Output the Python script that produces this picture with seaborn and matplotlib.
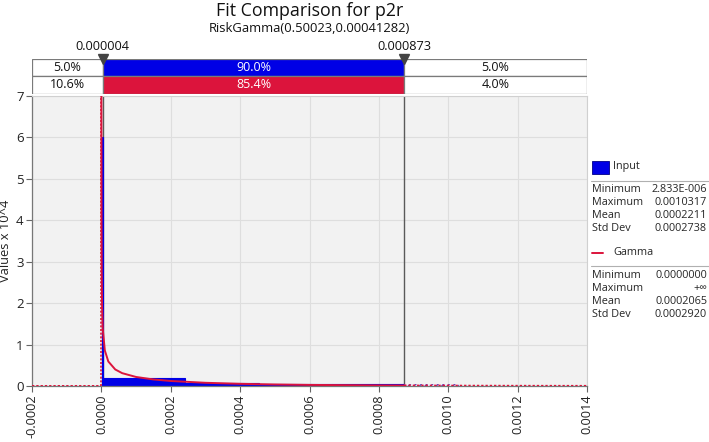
import matplotlib
matplotlib.use("Agg")
import matplotlib.pyplot as plt
import matplotlib.transforms as mtransforms
import numpy as np
import pandas as pd
import seaborn as sns

# ---------------- data ----------------
title = "Fit Comparison for p2r"
subtitle = "RiskGamma(0.50023,0.00041282)"
left_mark = 0.000004
right_mark = 0.000873
mark_labels = ["0.000004", "0.000873"]
input_pcts = ["5.0%", "90.0%", "5.0%"]
fit_pcts = ["10.6%", "85.4%", "4.0%"]

# histogram of input (values x 10^4)
hist_edges = [0.000002833, 0.0000060, 0.000240, 0.000455, 0.000665, 0.000873]
hist_heights = [6.0, 0.20, 0.07, 0.045, 0.04]
tail_edges = [0.000873, 0.0010317]
tail_heights = [0.06]

# fitted gamma density (values x 10^4)
gamma_x = [0.00000016, 0.0000003, 0.0000005, 0.000001, 0.000002, 0.000004,
           0.00001, 0.00002, 0.00004, 0.00006, 0.0001, 0.00015, 0.0002,
           0.0003, 0.0004, 0.0005, 0.0006, 0.0008, 0.000873]
gamma_y = [7.0, 5.07, 3.93, 2.78, 1.96, 1.375, 0.857, 0.592, 0.399, 0.310,
           0.218, 0.158, 0.121, 0.0775, 0.0527, 0.037, 0.0265, 0.0141, 0.0113]
gamma_tail_x = [0.000873, 0.001, 0.0012, 0.0014]
gamma_tail_y = [0.0113, 0.0078, 0.0044, 0.0025]
gamma_left_x = [-0.0002, 0.0]
gamma_left_y = [0.0, 0.0]
gamma_zero_x = [0.0, 0.0]
gamma_zero_y = [0.0, 7.0]

input_stats = [("Minimum", "2.833E-006"), ("Maximum", "0.0010317"),
               ("Mean", "0.0002211"), ("Std Dev", "0.0002738")]
gamma_stats = [("Minimum", "0.0000000"), ("Maximum", "+\u221e"),
               ("Mean", "0.0002065"), ("Std Dev", "0.0002920")]

x_ticks = [-0.0002, 0.0, 0.0002, 0.0004, 0.0006, 0.0008, 0.0010, 0.0012, 0.0014]
y_ticks = [0, 1, 2, 3, 4, 5, 6, 7]

# ---------------- style ----------------
sns.set_theme(style="whitegrid")
plt.rcParams["font.family"] = ["Open Sans", "DejaVu Sans"]

BLUE = "#0000E6"
RED = "#DC143C"
W, H = 709, 442

fig = plt.figure(figsize=(W / 100, H / 100), dpi=100)
fig.patch.set_facecolor("white")
ax = fig.add_axes([32 / W, 1 - 386 / H, 555 / W, 290 / H])
axb = fig.add_axes([32 / W, 1 - 93.5 / H, 555 / W, 34.5 / H])

# ---------------- main plot ----------------
ax.set_facecolor("#F2F2F2")
ax.grid(True, color="#DEDEDE", linewidth=0.8)
ax.set_axisbelow(True)

for xm in (left_mark, right_mark):
    ax.axvline(xm, color="#5A5A5A", linewidth=1.0, zorder=1.5)

centers = [(a + b) / 2 for a, b in zip(hist_edges[:-1], hist_edges[1:])]
sns.histplot(x=centers, weights=hist_heights, bins=hist_edges, ax=ax,
             color=BLUE, alpha=1.0, edgecolor=BLUE, linewidth=0.8, zorder=2)
tcenters = [(a + b) / 2 for a, b in zip(tail_edges[:-1], tail_edges[1:])]
sns.histplot(x=tcenters, weights=tail_heights, bins=tail_edges, ax=ax,
             facecolor="#F4ECF6", edgecolor="#7040B0", hatch="//////",
             linewidth=0, alpha=1.0, zorder=2)

dotted = (0, (1.2, 1.0))
sns.lineplot(x=gamma_x, y=gamma_y, ax=ax, color=RED, linewidth=1.4,
             sort=False, estimator=None, zorder=3)
sns.lineplot(x=gamma_tail_x, y=gamma_tail_y, ax=ax, color=RED, linewidth=1.4,
             sort=False, estimator=None, zorder=3, linestyle=dotted)
sns.lineplot(x=gamma_left_x, y=gamma_left_y, ax=ax, color=RED, linewidth=1.4,
             sort=False, estimator=None, zorder=3, linestyle=dotted)
sns.lineplot(x=gamma_zero_x, y=gamma_zero_y, ax=ax, color=RED, linewidth=1.2,
             sort=False, estimator=None, zorder=3, linestyle=dotted)

ax.set_xlim(-0.0002, 0.0014)
ax.set_ylim(0, 7)
ax.set_xticks(x_ticks)
ax.set_xticklabels([f"{v:.4f}" for v in x_ticks], rotation=90, fontsize=9.2,
                   color="#222222")
ax.set_yticks(y_ticks)
ax.set_yticklabels([str(v) for v in y_ticks], fontsize=9.5, color="#222222")
ax.tick_params(axis="both", which="both", length=4, width=0.8,
               color="#666666", direction="out", pad=2,
               bottom=True, left=True)
ax.set_xlabel("")
ax.set_ylabel("Values x 10^4", fontsize=9.3, color="#222222")
ax.yaxis.set_label_coords(-20 / 555, 0.5)
for side in ("left", "bottom"):
    ax.spines[side].set_color("#777777")
    ax.spines[side].set_linewidth(0.9)
for side in ("right", "top"):
    ax.spines[side].set_color("#D0D0D0")
    ax.spines[side].set_linewidth(0.8)

# ---------------- band above plot ----------------
axb.set_xlim(-0.0002, 0.0014)
axb.set_ylim(0, 2)
axb.axis("off")
seg_left = [-0.0002, left_mark, right_mark]
seg_width = [left_mark + 0.0002, right_mark - left_mark, 0.0014 - right_mark]
axb.barh([1.5] * 3, seg_width, left=seg_left, height=1.0,
         color=["white", BLUE, "white"], edgecolor="#7A7A7A", linewidth=0.9)
axb.barh([0.5] * 3, seg_width, left=seg_left, height=1.0,
         color=["white", RED, "white"], edgecolor="#7A7A7A", linewidth=0.9)
for i, (l, w) in enumerate(zip(seg_left, seg_width)):
    col = "white" if i == 1 else "#111111"
    axb.text(l + w / 2, 1.5, input_pcts[i], ha="center", va="center",
             fontsize=9, color=col)
    axb.text(l + w / 2, 0.5, fit_pcts[i], ha="center", va="center",
             fontsize=9, color=col)

trans = mtransforms.blended_transform_factory(axb.transData, fig.transFigure)
for xm, lab in zip((left_mark, right_mark), mark_labels):
    axb.plot([xm], [1 - 58.5 / H], marker="v", markersize=7, color="#444444",
             transform=trans, clip_on=False, zorder=5)
    fig.text(xm, 1 - 47 / H, lab, transform=trans, ha="center", va="center",
             fontsize=9.2, color="#111111")

# ---------------- titles ----------------
cx = (32 + 555 / 2) / W
fig.text(cx, 1 - 11 / H, title, ha="center", va="center", fontsize=12.8,
         color="#111111")
fig.text(cx, 1 - 28 / H, subtitle, ha="center", va="center", fontsize=9.4,
         color="#111111")

# ---------------- legend panel ----------------
fs = 7.8
fig.patches.append(plt.Rectangle((592 / W, 1 - 174 / H), 17 / W, 13 / H,
                                 transform=fig.transFigure,
                                 facecolor=BLUE, edgecolor="#000088",
                                 linewidth=0.6))
fig.text(613 / W, 1 - 167 / H, "Input", ha="left", va="center", fontsize=fs)
fig.add_artist(plt.Line2D([591 / W, 709 / W], [1 - 181 / H, 1 - 181 / H],
                          color="#B0B0B0", linewidth=0.8))
for k, (lab, val) in enumerate(input_stats):
    y = 1 - (189 + 13.3 * k) / H
    fig.text(592 / W, y, lab, ha="left", va="center", fontsize=fs)
    fig.text(707 / W, y, val, ha="right", va="center", fontsize=fs)

fig.add_artist(plt.Line2D([592 / W, 603 / W], [1 - 252.5 / H, 1 - 252.5 / H],
                          color=RED, linewidth=1.4))
fig.text(613 / W, 1 - 252.5 / H, "Gamma", ha="left", va="center", fontsize=fs)
fig.add_artist(plt.Line2D([591 / W, 709 / W], [1 - 266 / H, 1 - 266 / H],
                          color="#B0B0B0", linewidth=0.8))
for k, (lab, val) in enumerate(gamma_stats):
    y = 1 - (275 + 13.3 * k) / H
    fig.text(592 / W, y, lab, ha="left", va="center", fontsize=fs)
    fig.text(707 / W, y, val, ha="right", va="center", fontsize=fs)

fig.savefig("out.png", dpi=100)
